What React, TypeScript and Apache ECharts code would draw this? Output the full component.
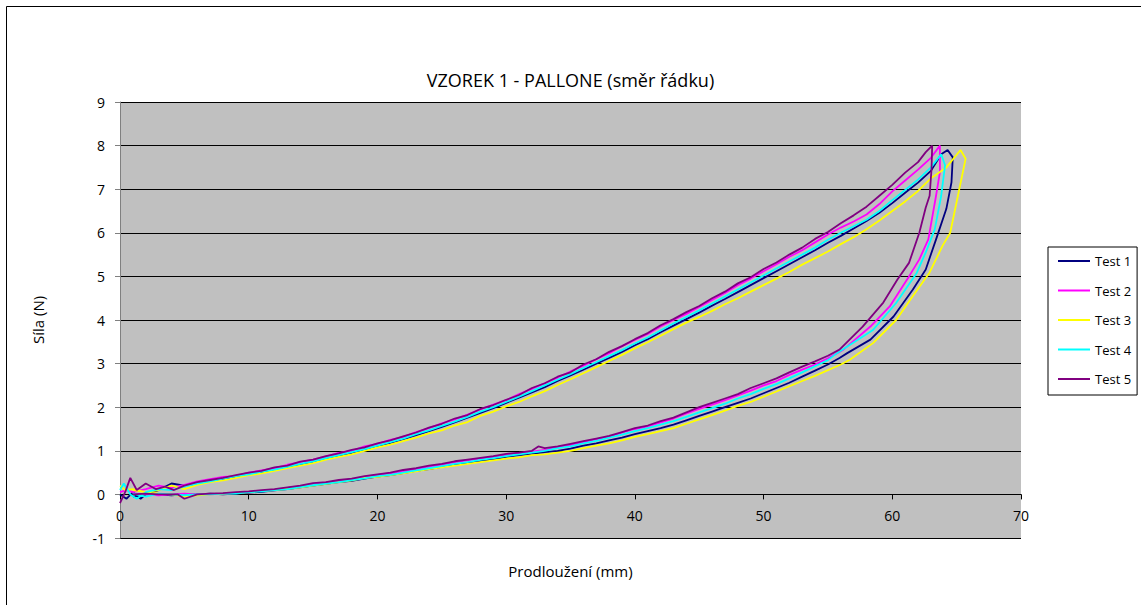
import React, { useEffect, useRef } from "react";
import * as echarts from "echarts";

const TITLE = "VZOREK 1 - PALLONE (směr řádku)";
const X_NAME = "Prodloužení (mm)";
const Y_NAME = "Síla (N)";
const SERIES_NAMES = ["Test 1", "Test 2", "Test 3", "Test 4", "Test 5"];
const SERIES_COLORS = ["#000080", "#FF00FF", "#FFFF00", "#00FFFF", "#800080"];

// Test 1 (navy)
const test1: number[][] = [
  [0, 0.0], [0.5, -0.1], [1, 0.05], [1.6, -0.1], [2, 0.0], [3, 0.1], [4, 0.25], [5, 0.2], [6, 0.25], [7, 0.3], [8, 0.35], [9, 0.4],
  [10, 0.46], [11, 0.5], [12, 0.56], [13, 0.62], [14, 0.68], [15, 0.75], [16, 0.82], [17, 0.88], [18, 0.95], [19, 1.03],
  [20, 1.1], [21, 1.18], [22, 1.27], [23, 1.36], [24, 1.45], [25, 1.55], [26, 1.65], [27, 1.76], [28, 1.87], [29, 1.98],
  [30, 2.1], [31, 2.22], [32, 2.34], [33, 2.46], [34, 2.6], [35, 2.73], [36, 2.86], [37, 3.0], [38, 3.13], [39, 3.27],
  [40, 3.42], [41, 3.56], [42, 3.72], [43, 3.87], [44, 4.02], [45, 4.17], [46, 4.33], [47, 4.48], [48, 4.64], [49, 4.8],
  [50, 4.96], [51, 5.12], [52, 5.28], [53, 5.44], [54, 5.6], [55, 5.77], [56, 5.93], [57, 6.1], [58, 6.27], [59, 6.46],
  [60, 6.68], [61, 6.92], [62, 7.15], [63, 7.42], [63.8, 7.8], [64.3, 7.9], [64.7, 7.73],
  [64.6, 7.16], [64.2, 6.55], [63.4, 5.85], [62.6, 5.16], [61.6, 4.7], [60.1, 4.08], [58.3, 3.55], [56.5, 3.24], [55.9, 3.13],
  [55, 2.98], [54, 2.84], [53, 2.7], [52, 2.56], [51, 2.44], [50, 2.32], [49, 2.2], [48, 2.1], [47, 2.0], [46, 1.9],
  [45, 1.8], [44, 1.7], [43, 1.6], [42, 1.52], [41, 1.45], [40, 1.38], [39, 1.3], [38, 1.24], [37, 1.17], [36, 1.12],
  [35, 1.05], [34, 1.0], [33, 0.97], [32, 0.93], [31, 0.9], [30, 0.86], [29, 0.8], [28, 0.77], [27, 0.72], [26, 0.68],
  [25, 0.63], [24, 0.58], [23, 0.54], [22, 0.49], [21, 0.44], [20, 0.41], [19, 0.36], [18, 0.31], [17, 0.28], [16, 0.24],
  [15, 0.2], [14, 0.16], [13, 0.12], [12, 0.09], [11, 0.06], [10, 0.04], [9, 0.02], [8, 0.0], [7, 0.02], [6, 0.0],
  [5, 0.0], [4, -0.02], [3, 0.0], [2, 0.0], [1, -0.05],
];

// Test 2 (magenta)
const test2: number[][] = [
  [0, 0.05], [0.5, 0.1], [1, 0.05], [2, 0.12], [3, 0.2], [4, 0.15], [5, 0.22], [6, 0.3], [7, 0.35], [8, 0.4], [9, 0.42],
  [10, 0.5], [11, 0.55], [12, 0.6], [13, 0.68], [14, 0.74], [15, 0.8], [16, 0.87], [17, 0.95], [18, 1.0], [19, 1.1],
  [20, 1.16], [21, 1.25], [22, 1.32], [23, 1.43], [24, 1.52], [25, 1.63], [26, 1.72], [27, 1.83], [28, 1.95], [29, 2.06],
  [30, 2.16], [31, 2.3], [32, 2.42], [33, 2.55], [34, 2.68], [35, 2.82], [36, 2.95], [37, 3.1], [38, 3.24], [39, 3.4],
  [40, 3.54], [41, 3.68], [42, 3.85], [43, 4.0], [44, 4.14], [45, 4.3], [46, 4.46], [47, 4.62], [48, 4.8], [49, 4.95],
  [50, 5.12], [51, 5.28], [52, 5.45], [53, 5.6], [54, 5.78], [55, 5.96], [56, 6.12], [57, 6.26], [58, 6.42], [59, 6.66],
  [60, 6.95], [61, 7.2], [62, 7.45], [63, 7.72], [63.7, 8.0],
  [63.7, 7.39], [63.4, 6.85], [62.8, 5.85], [62.1, 5.39], [61.3, 5.0], [59.8, 4.31], [58.3, 3.85], [56.2, 3.32],
  [55, 3.12], [54, 2.98], [53, 2.86], [52, 2.74], [51, 2.6], [50, 2.5], [49, 2.38], [48, 2.27], [47, 2.16], [46, 2.06],
  [45, 1.96], [44, 1.86], [43, 1.74], [42, 1.65], [41, 1.56], [40, 1.5], [39, 1.42], [38, 1.32], [37, 1.27], [36, 1.2],
  [35, 1.13], [34, 1.08], [33, 1.02], [32, 0.98], [31, 0.94], [30, 0.9], [29, 0.85], [28, 0.82], [27, 0.78], [26, 0.74],
  [25, 0.68], [24, 0.63], [23, 0.58], [22, 0.53], [21, 0.48], [20, 0.45], [19, 0.4], [18, 0.34], [17, 0.31], [16, 0.27],
  [15, 0.22], [14, 0.18], [13, 0.15], [12, 0.1], [11, 0.08], [10, 0.06], [9, 0.03], [8, 0.02], [7, 0.0], [6, 0.0],
  [5, 0.02], [4, 0.0], [3, -0.02], [2, 0.0], [1, 0.02],
];

// Test 3 (yellow)
const test3: number[][] = [
  [0, 0.2], [0.4, 0.1], [1, 0.12], [2, 0.05], [3, 0.1], [4, 0.2], [5, 0.12], [6, 0.22], [7, 0.28], [8, 0.32], [9, 0.38],
  [10, 0.44], [11, 0.48], [12, 0.54], [13, 0.6], [14, 0.66], [15, 0.72], [16, 0.8], [17, 0.86], [18, 0.92], [19, 1.0],
  [20, 1.08], [21, 1.14], [22, 1.22], [23, 1.3], [24, 1.4], [25, 1.47], [26, 1.58], [27, 1.66], [28, 1.8], [29, 1.9],
  [30, 2.02], [31, 2.12], [32, 2.25], [33, 2.37], [34, 2.51], [35, 2.64], [36, 2.78], [37, 2.92], [38, 3.06], [39, 3.2],
  [40, 3.35], [41, 3.49], [42, 3.64], [43, 3.79], [44, 3.94], [45, 4.07], [46, 4.21], [47, 4.36], [48, 4.5], [49, 4.65],
  [50, 4.8], [51, 4.95], [52, 5.1], [53, 5.27], [54, 5.42], [55, 5.57], [56, 5.74], [57, 5.9], [58, 6.08], [59, 6.28],
  [60, 6.5], [61, 6.72], [62, 6.96], [63, 7.25], [64.2, 7.5], [65.3, 7.9], [65.7, 7.7],
  [65.1, 6.85], [64.5, 6.0], [63.9, 5.7], [62.9, 5.09], [61.6, 4.55], [60.3, 4.0], [58.5, 3.47], [56.7, 3.09],
  [56, 2.98], [55, 2.85], [54, 2.72], [53, 2.6], [52, 2.48], [51, 2.36], [50, 2.24], [49, 2.12], [48, 2.03], [47, 1.92],
  [46, 1.82], [45, 1.72], [44, 1.62], [43, 1.52], [42, 1.45], [41, 1.38], [40, 1.32], [39, 1.24], [38, 1.17], [37, 1.12],
  [36, 1.06], [35, 1.0], [34, 0.96], [33, 0.92], [32, 0.9], [31, 0.85], [30, 0.82], [29, 0.78], [28, 0.74], [27, 0.7],
  [26, 0.66], [25, 0.62], [24, 0.58], [23, 0.53], [22, 0.48], [21, 0.44], [20, 0.4], [19, 0.38], [18, 0.32], [17, 0.28],
  [16, 0.24], [15, 0.2], [14, 0.16], [13, 0.13], [12, 0.1], [11, 0.08], [10, 0.05], [9, 0.03], [8, 0.02], [7, 0.0],
  [6, -0.02], [5, -0.05], [4, 0.0], [3, 0.02], [2, 0.05], [1, 0.1],
];

// Test 4 (cyan)
const test4: number[][] = [
  [0, 0.1], [0.3, 0.25], [0.8, 0.0], [1.3, -0.1], [2, 0.05], [3, 0.12], [4, 0.1], [5, 0.18], [6, 0.25], [7, 0.3], [8, 0.36],
  [9, 0.42], [10, 0.46], [11, 0.52], [12, 0.57], [13, 0.63], [14, 0.7], [15, 0.76], [16, 0.83], [17, 0.9], [18, 0.97],
  [19, 1.04], [20, 1.12], [21, 1.2], [22, 1.28], [23, 1.38], [24, 1.47], [25, 1.57], [26, 1.67], [27, 1.78], [28, 1.9],
  [29, 2.0], [30, 2.12], [31, 2.24], [32, 2.37], [33, 2.5], [34, 2.63], [35, 2.76], [36, 2.9], [37, 3.03], [38, 3.17],
  [39, 3.31], [40, 3.46], [41, 3.6], [42, 3.76], [43, 3.92], [44, 4.07], [45, 4.22], [46, 4.38], [47, 4.54], [48, 4.7],
  [49, 4.86], [50, 5.02], [51, 5.18], [52, 5.34], [53, 5.5], [54, 5.66], [55, 5.84], [56, 6.0], [57, 6.15], [58, 6.3],
  [59, 6.5], [60, 6.75], [61, 6.98], [62, 7.22], [63, 7.5], [63.8, 7.8],
  [64.1, 7.55], [63.8, 6.85], [63.3, 6.08], [62.6, 5.55], [61.9, 5.08], [60.3, 4.39], [58.5, 3.77], [55.7, 3.24],
  [55, 3.08], [54, 2.94], [53, 2.8], [52, 2.66], [51, 2.53], [50, 2.42], [49, 2.3], [48, 2.2], [47, 2.08], [46, 1.98],
  [45, 1.88], [44, 1.78], [43, 1.68], [42, 1.6], [41, 1.52], [40, 1.45], [39, 1.37], [38, 1.3], [37, 1.23], [36, 1.17],
  [35, 1.1], [34, 1.06], [33, 1.0], [32, 0.96], [31, 0.92], [30, 0.88], [29, 0.83], [28, 0.79], [27, 0.74], [26, 0.7],
  [25, 0.65], [24, 0.6], [23, 0.55], [22, 0.5], [21, 0.45], [20, 0.42], [19, 0.37], [18, 0.33], [17, 0.28], [16, 0.25],
  [15, 0.21], [14, 0.17], [13, 0.12], [12, 0.1], [11, 0.07], [10, 0.05], [9, 0.02], [8, 0.02], [7, 0.0], [6, 0.0],
  [5, -0.02], [4, 0.0], [3, 0.02], [2, -0.05], [1, 0.02],
];

// Test 5 (purple)
const test5: number[][] = [
  [0, -0.2], [0.4, 0.05], [0.8, 0.38], [1.3, 0.1], [2, 0.25], [2.8, 0.12], [3.5, 0.18], [4.2, 0.1], [5, 0.2], [6, 0.28],
  [7, 0.33], [8, 0.38], [9, 0.44], [10, 0.5], [11, 0.54], [12, 0.62], [13, 0.66], [14, 0.75], [15, 0.8], [16, 0.88],
  [17, 0.94], [18, 1.02], [19, 1.08], [20, 1.17], [21, 1.24], [22, 1.33], [23, 1.42], [24, 1.53], [25, 1.62], [26, 1.74],
  [27, 1.82], [28, 1.96], [29, 2.05], [30, 2.17], [31, 2.28], [32, 2.44], [33, 2.55], [34, 2.7], [35, 2.8], [36, 2.98],
  [37, 3.1], [38, 3.27], [39, 3.4], [40, 3.56], [41, 3.7], [42, 3.88], [43, 4.02], [44, 4.18], [45, 4.32], [46, 4.5],
  [47, 4.65], [48, 4.84], [49, 4.98], [50, 5.17], [51, 5.32], [52, 5.5], [53, 5.66], [54, 5.86], [55, 6.02], [56, 6.22],
  [57, 6.4], [58, 6.6], [59, 6.85], [60, 7.1], [61, 7.38], [62, 7.62], [62.6, 7.85], [63.1, 8.0],
  [63.05, 7.47], [62.9, 6.85], [62.6, 6.58], [62.1, 6.0], [61.3, 5.31], [60.4, 4.93], [59.3, 4.4], [57.7, 3.85], [55.9, 3.32],
  [55, 3.18], [54, 3.05], [53, 2.93], [52, 2.8], [51, 2.66], [50, 2.55], [49, 2.44], [48, 2.3], [47, 2.2], [46, 2.1],
  [45, 2.0], [44, 1.88], [43, 1.76], [42, 1.68], [41, 1.58], [40, 1.52], [39, 1.43], [38, 1.34], [37, 1.28], [36, 1.22],
  [35, 1.16], [34, 1.1], [33, 1.06], [32.5, 1.1], [32, 1.0], [31, 0.96], [30, 0.93], [29, 0.88], [28, 0.84], [27, 0.8],
  [26, 0.76], [25, 0.7], [24, 0.66], [23, 0.6], [22, 0.56], [21, 0.5], [20, 0.46], [19, 0.42], [18, 0.36], [17, 0.33],
  [16, 0.28], [15, 0.26], [14, 0.2], [13, 0.16], [12, 0.12], [11, 0.1], [10, 0.07], [9, 0.05], [8, 0.03], [7, 0.02],
  [6, 0.0], [5, -0.1], [4.5, 0.0], [3, 0.0], [2, 0.02], [1, 0.0],
];

const SERIES_DATA = [test1, test2, test3, test4, test5];

const FONT = "'Open Sans', 'Noto Sans', sans-serif";

const GRID_TOP = 102;
const GRID_HEIGHT = 436;
const Y_MIN = -1;
const Y_MAX = 9;
// shift the x axis up from the bottom edge (y = -1) to y = 0
const X_AXIS_OFFSET = -(GRID_HEIGHT * (0 - Y_MIN)) / (Y_MAX - Y_MIN);

export default function App() {
  const ref = useRef<HTMLDivElement>(null);

  useEffect(() => {
    if (!ref.current) return;
    const chart = echarts.init(ref.current, undefined, { renderer: "svg" });
    chart.setOption({
      animation: false,
      backgroundColor: "#ffffff",
      textStyle: { fontFamily: FONT },
      title: {
        text: TITLE,
        left: "center",
        top: 66,
        textStyle: { fontFamily: FONT, fontSize: 18, fontWeight: "normal", color: "#000" },
      },
      graphic: [
        {
          type: "rect",
          silent: true,
          shape: { x: 6.5, y: 6.5, width: 1200, height: 700 },
          style: { fill: "none", stroke: "#000", lineWidth: 1 },
        },
      ],
      legend: {
        orient: "vertical",
        left: 1048,
        top: 247,
        padding: [6, 6, 8, 10],
        itemGap: 13.5,
        itemWidth: 32,
        itemHeight: 2,
        icon: "rect",
        borderColor: "#000",
        borderWidth: 1,
        backgroundColor: "#fff",
        textStyle: { fontFamily: FONT, fontSize: 13, color: "#000", lineHeight: 16 },
        data: SERIES_NAMES,
      },
      grid: {
        left: 120,
        top: GRID_TOP,
        width: 901,
        height: GRID_HEIGHT,
        show: true,
        backgroundColor: "#C0C0C0",
        borderWidth: 0,
        containLabel: false,
        outerBoundsMode: "none",
      },
      xAxis: {
        type: "value",
        min: 0,
        max: 70,
        interval: 10,
        offset: X_AXIS_OFFSET,
        name: X_NAME,
        nameLocation: "middle",
        nameGap: 69,
        nameTextStyle: { fontFamily: FONT, fontSize: 15, color: "#000" },
        axisLine: { onZero: false, lineStyle: { color: "#000", width: 1 } },
        axisTick: { show: true, length: 5, lineStyle: { color: "#000" } },
        axisLabel: { fontFamily: FONT, fontSize: 14, color: "#000", margin: 14 },
        splitLine: { show: false },
      },
      yAxis: {
        type: "value",
        min: Y_MIN,
        max: Y_MAX,
        interval: 1,
        name: Y_NAME,
        nameLocation: "middle",
        nameGap: 75,
        nameRotate: 90,
        nameTextStyle: { fontFamily: FONT, fontSize: 15, color: "#000" },
        axisLine: { show: true, onZero: false, lineStyle: { color: "#808080", width: 1 } },
        axisTick: { show: true, length: 5, lineStyle: { color: "#808080" } },
        axisLabel: { fontFamily: FONT, fontSize: 14, color: "#000", margin: 15 },
        splitLine: { show: true, lineStyle: { color: "#000", width: 1 } },
      },
      series: SERIES_NAMES.map((name, i) => ({
        name,
        type: "line",
        data: SERIES_DATA[i],
        showSymbol: false,
        symbol: "none",
        smooth: false,
        lineStyle: { color: SERIES_COLORS[i], width: 1.8 },
        itemStyle: { color: SERIES_COLORS[i] },
      })),
    });
    return () => chart.dispose();
  }, []);

  return (
    <div
      ref={ref}
      style={{ position: "fixed", left: 0, top: 0, width: 1141, height: 605, background: "#fff" }}
    />
  );
}
